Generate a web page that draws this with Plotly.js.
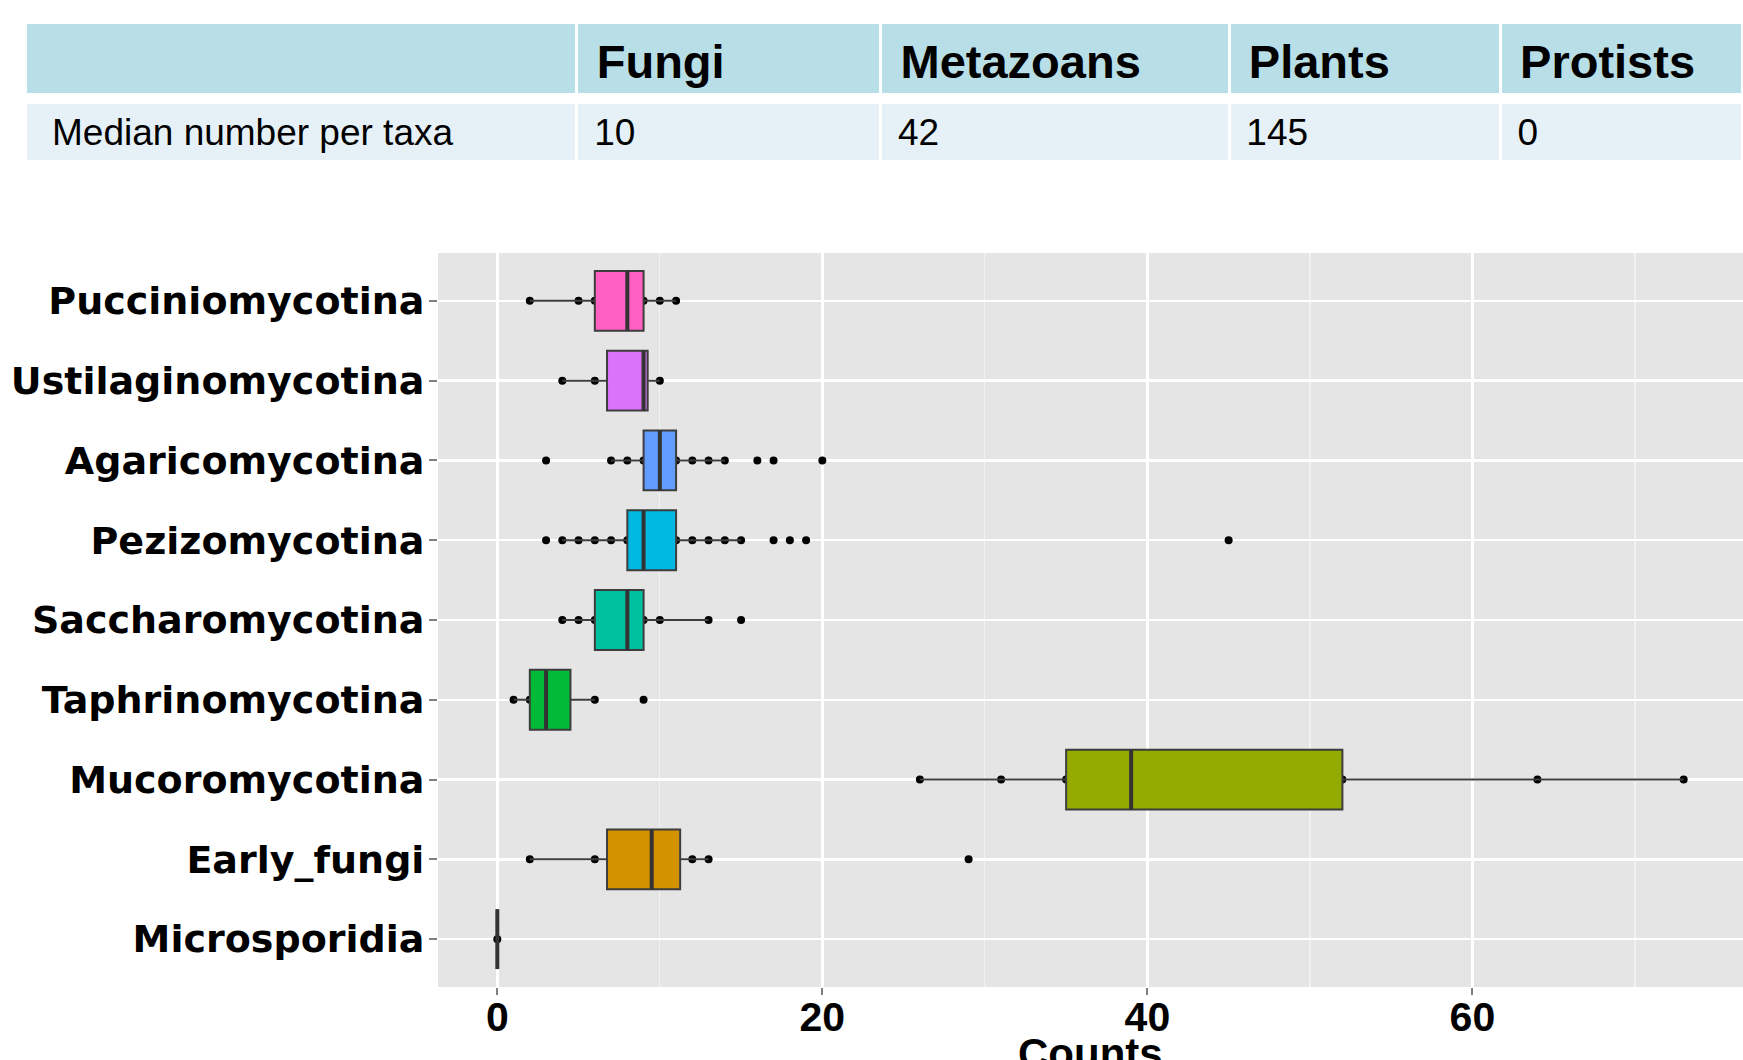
<!DOCTYPE html>
<html><head><meta charset="utf-8">
<script src="https://cdn.plot.ly/plotly-3.0.1.min.js"></script>
<style>html,body{margin:0;padding:0;background:#fff;}</style>
</head><body>
<div id="chart" style="width:1743px;height:1060px;"></div>
<script>
// ---- Table data ----
var tableHeader = ['', 'Fungi', 'Metazoans', 'Plants', 'Protists'];
var tableRowLabel = 'Median number per taxa';
var tableMedians = [10, 42, 145, 0];

// ---- Box plot data (categories listed bottom to top) ----
var categories = ['Microsporidia', 'Early_fungi', 'Mucoromycotina', 'Taphrinomycotina',
  'Saccharomycotina', 'Pezizomycotina', 'Agaricomycotina', 'Ustilaginomycotina', 'Pucciniomycotina'];
var fillColors = ['#F8766D', '#D39200', '#93AA00', '#00BA38', '#00C19F', '#00B9E3', '#619CFF', '#DB72FB', '#FF61C3'];

var lowerWhisker = [0, 2,     26, 1,   4, 4,  7,  4,    2];
var q1           = [0, 6.75,  35, 2,   6, 8,  9,  6.75, 6];
var median       = [0, 9.5,   39, 3,   8, 9,  10, 9,    8];
var q3           = [0, 11.25, 52, 4.5, 9, 11, 11, 9.25, 9];
var upperWhisker = [0, 13,    73, 6,   13, 15, 14, 10,  11];

// visible observations per group
var ptsMicrosporidia      = [0];
var ptsEarlyFungi         = [2, 6, 12, 13, 29];
var ptsMucoromycotina     = [26, 31, 35, 52, 64, 73];
var ptsTaphrinomycotina   = [1, 2, 6, 9];
var ptsSaccharomycotina   = [4, 5, 6, 9, 10, 13, 15];
var ptsPezizomycotina     = [3, 4, 5, 6, 7, 8, 11, 12, 13, 14, 15, 17, 18, 19, 45];
var ptsAgaricomycotina    = [3, 7, 8, 9, 11, 12, 13, 14, 16, 17, 20];
var ptsUstilaginomycotina = [4, 6, 10];
var ptsPucciniomycotina   = [2, 5, 6, 9, 10, 11];
var groupPoints = [ptsMicrosporidia, ptsEarlyFungi, ptsMucoromycotina, ptsTaphrinomycotina,
  ptsSaccharomycotina, ptsPezizomycotina, ptsAgaricomycotina, ptsUstilaginomycotina, ptsPucciniomycotina];

var xTickVals = [0, 20, 40, 60];
var xTitle = 'Counts';

// ---- build ----
var W = 1743, H = 1060;
var plotL = 438, plotT = 253, plotB = 987;
var FONT = 'Liberation Sans, Arial, sans-serif';

var allVals = [].concat.apply([], groupPoints).concat(lowerWhisker, upperWhisker);
var vmin = Math.min.apply(null, allVals), vmax = Math.max.apply(null, allVals);
var xr = [vmin - 0.05 * (vmax - vmin), vmax + 0.05 * (vmax - vmin)];
var yr = [-0.6, categories.length - 0.4];

var px = [], py = [];
groupPoints.forEach(function (arr, i) {
  arr.forEach(function (v) { px.push(v); py.push(categories[i]); });
});

var traces = [];
// points (underneath boxes)
traces.push({
  type: 'scatter', mode: 'markers', x: px, y: py, xaxis: 'x', yaxis: 'y',
  marker: {color: '#000', size: 8}, hoverinfo: 'skip', showlegend: false
});
// boxes on overlay axes so they cover the points
categories.forEach(function (c, i) {
  traces.push({
    type: 'box', orientation: 'h', y: [c], xaxis: 'x2', yaxis: 'y2',
    q1: [q1[i]], median: [median[i]], q3: [q3[i]],
    lowerfence: [lowerWhisker[i]], upperfence: [upperWhisker[i]],
    boxpoints: false, whiskerwidth: 0, width: 0.75,
    fillcolor: fillColors[i], line: {color: '#3d3d3d', width: 2},
    hoverinfo: 'skip', showlegend: false
  });
});

// table: background rows
var colW = [551, 303.5, 348, 271, 242];
var tabX = [25.5 / W, 1];
var blanks = tableHeader.map(function () { return ''; });
traces.push({
  type: 'table', domain: {x: tabX, y: [1 - 97 / H, 1 - 22.5 / H]}, columnwidth: colW,
  header: {values: blanks, height: 72, fill: {color: '#B8DEE8'}, line: {color: '#ffffff', width: 3}},
  cells: {values: []}
});
traces.push({
  type: 'table', domain: {x: tabX, y: [1 - 163 / H, 1 - 102 / H]}, columnwidth: colW,
  header: {values: blanks, height: 59, fill: {color: '#E5F1F6'}, line: {color: '#ffffff', width: 3}},
  cells: {values: []}
});
// table: text
traces.push({
  type: 'table', domain: {x: tabX, y: [1 - 170 / H, 1 - 35 / H]}, columnwidth: colW,
  header: {
    values: tableHeader, height: 74, align: 'left', prefix: '\u2005',
    fill: {color: 'rgba(0,0,0,0)'}, line: {color: 'rgba(0,0,0,0)', width: 0},
    font: {family: FONT, size: 47, color: '#000', weight: 'bold'}
  },
  cells: {
    values: [[tableRowLabel]].concat(tableMedians.map(function (v) { return [String(v)]; })),
    height: 50, align: 'left', prefix: '\u2005',
    fill: {color: 'rgba(0,0,0,0)'}, line: {color: 'rgba(0,0,0,0)', width: 0},
    font: {family: FONT, size: 37, color: '#000'}
  }
});

var shapes = median.map(function (m, i) {
  return {type: 'line', xref: 'x', yref: 'y', x0: m, x1: m, y0: i - 0.375, y1: i + 0.375,
    line: {color: '#333333', width: 4}, layer: 'above'};
});

var xdom = [plotL / W, 1], ydom = [(H - plotB) / H, (H - plotT) / H];
var layout = {
  width: W, height: H, margin: {l: 0, r: 0, t: 0, b: 0, pad: 0},
  paper_bgcolor: '#ffffff', plot_bgcolor: '#E5E5E5', showlegend: false,
  xaxis: {
    domain: xdom, anchor: 'y', range: xr, autorange: false, tickvals: xTickVals,
    showgrid: true, gridcolor: '#ffffff', gridwidth: 2.5, zeroline: false, showline: false,
    ticks: 'outside', ticklen: 7, tickwidth: 2, tickcolor: '#7f7f7f', ticklabelstandoff: -13,
    tickfont: {family: FONT, size: 41, color: '#000', weight: 'bold'},
    minor: {dtick: 10, tick0: 0, showgrid: true, gridcolor: '#F2F2F2', gridwidth: 1.2, ticks: ''},
    automargin: false, fixedrange: true
  },
  yaxis: {
    domain: ydom, anchor: 'x', type: 'category', categoryorder: 'array', categoryarray: categories,
    range: yr, autorange: false, showgrid: true, gridcolor: '#ffffff', gridwidth: 2.5,
    zeroline: false, showline: false, ticks: 'outside', ticklen: 8, tickwidth: 2, tickcolor: '#7f7f7f',
    ticklabelstandoff: -3,
    tickfont: {family: 'DejaVu Sans, sans-serif', size: 38, color: '#000', weight: 'bold'},
    automargin: false, fixedrange: true
  },
  xaxis2: {domain: xdom, overlaying: 'x', anchor: 'y2', range: xr, autorange: false, visible: false, fixedrange: true},
  yaxis2: {domain: ydom, overlaying: 'y', anchor: 'x2', type: 'category', categoryorder: 'array',
    categoryarray: categories, range: yr, autorange: false, visible: false, fixedrange: true},
  annotations: [{
    text: xTitle, xref: 'x domain', yref: 'paper', x: 0.5, y: (H - 1028) / H,
    xanchor: 'center', yanchor: 'top', showarrow: false,
    font: {family: FONT, size: 42, color: '#000', weight: 'bold'}
  }],
  shapes: shapes
};

Plotly.newPlot('chart', traces, layout, {displayModeBar: false, staticPlot: true});
</script>
</body></html>
